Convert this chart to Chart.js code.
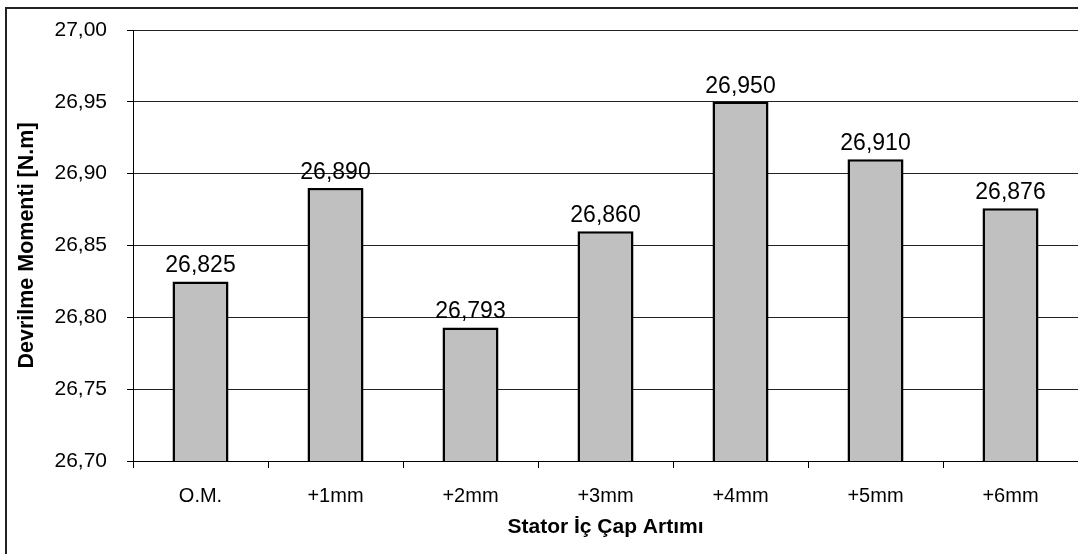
<!DOCTYPE html>
<html>
<head>
<meta charset="utf-8">
<script src="https://cdn.jsdelivr.net/npm/chart.js@4"></script>
<style>
  html, body { margin: 0; padding: 0; background: #fff; }
  #wrap { width: 1078px; height: 554px; position: relative; }
</style>
</head>
<body>
<div id="wrap"><canvas id="c" width="1078" height="554"></canvas></div>
<script>
const categories = ["O.M.", "+1mm", "+2mm", "+3mm", "+4mm", "+5mm", "+6mm"];
const values = [26.825, 26.890, 26.793, 26.860, 26.950, 26.910, 26.876];
const yTitle = "Devrilme Momenti [N.m]";
const xTitle = "Stator İç Çap Artımı";
const yMin = 26.70, yMax = 27.00, yStep = 0.05;

const FONT = '"Liberation Sans", Arial, sans-serif';
const fmt = (v, d) => v.toFixed(d).replace('.', ',');

const framePlugin = {
  id: 'frame',
  beforeDraw(chart) {
    const ctx = chart.ctx;
    ctx.save();
    ctx.fillStyle = '#fff';
    ctx.fillRect(0, 0, chart.width, chart.height);
    ctx.strokeStyle = '#222';
    ctx.lineWidth = 2;
    ctx.beginPath();
    ctx.moveTo(6, chart.height + 2);
    ctx.lineTo(6, 8);
    ctx.lineTo(chart.width + 2, 8);
    ctx.stroke();
    ctx.restore();
  }
};

const labelPlugin = {
  id: 'valLabels',
  afterDatasetsDraw(chart) {
    const ctx = chart.ctx;
    const meta = chart.getDatasetMeta(0);
    ctx.save();
    ctx.font = '23px ' + FONT;
    ctx.fillStyle = '#000';
    ctx.textAlign = 'center';
    ctx.textBaseline = 'alphabetic';
    meta.data.forEach((bar, i) => {
      ctx.fillText(fmt(values[i], 3), bar.x, bar.y - 9);
    });
    ctx.restore();
  }
};

new Chart(document.getElementById('c'), {
  type: 'bar',
  data: {
    labels: categories,
    datasets: [{
      data: values,
      backgroundColor: '#c0c0c0',
      borderColor: '#000',
      borderWidth: 2.5,
      borderSkipped: 'bottom',
      barPercentage: 0.415,
      categoryPercentage: 1.0
    }]
  },
  options: {
    responsive: false,
    animation: false,
    events: [],
    layout: { padding: { left: 0, top: 30, right: 0, bottom: 0 } },
    plugins: { legend: { display: false }, tooltip: { enabled: false } },
    scales: {
      x: {
        grid: {
          offset: true,
          drawOnChartArea: false,
          drawTicks: true,
          tickLength: 7,
          tickColor: '#000',
          tickWidth: 1
        },
        border: { display: true, color: '#000', width: 1 },
        ticks: {
          color: '#000',
          font: { family: FONT, size: 20 },
          padding: 16,
          maxRotation: 0
        },
        title: {
          display: true,
          text: xTitle,
          color: '#000',
          font: { family: FONT, size: 21, weight: 'bold' },
          padding: { top: 0, bottom: 14 }
        },
        afterFit(scale) { scale.height = 93; scale.paddingLeft = 0; scale.paddingRight = 0; }
      },
      y: {
        min: yMin,
        max: yMax,
        grid: {
          color: '#222',
          lineWidth: 1,
          drawTicks: true,
          tickLength: 6,
          tickColor: '#000'
        },
        border: { display: true, color: '#000', width: 1 },
        ticks: {
          stepSize: yStep,
          color: '#000',
          font: { family: FONT, size: 21 },
          padding: 20,
          callback: (v) => fmt(v, 2)
        },
        title: {
          display: true,
          text: yTitle,
          color: '#000',
          font: { family: FONT, size: 21.5, weight: 'bold' },
          padding: { top: 14, bottom: 0 }
        },
        afterFit(scale) { scale.width = 133; scale.paddingTop = 0; scale.paddingBottom = 0; }
      }
    }
  },
  plugins: [framePlugin, labelPlugin]
});
</script>
</body>
</html>
